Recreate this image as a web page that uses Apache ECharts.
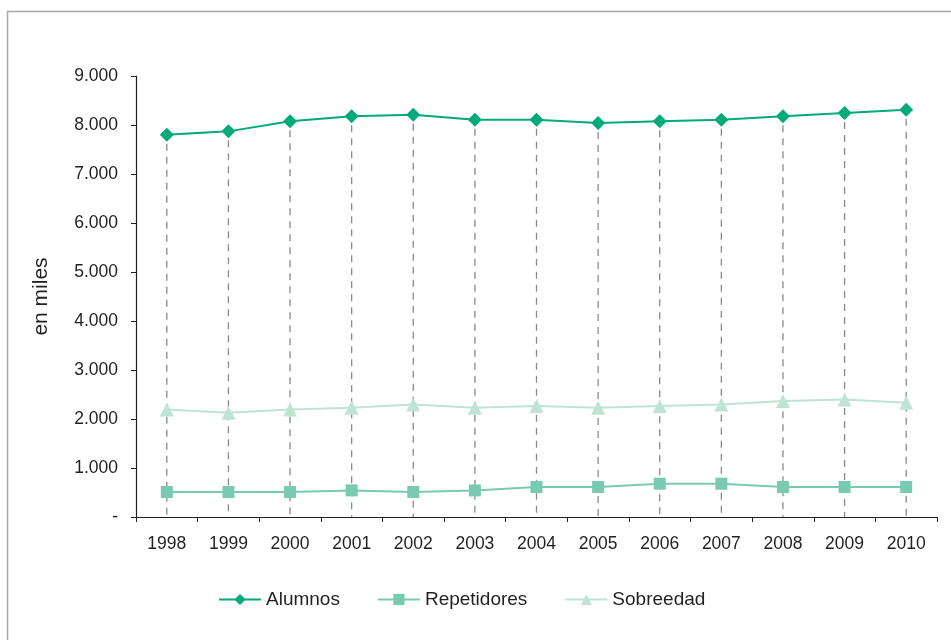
<!DOCTYPE html>
<html>
<head>
<meta charset="utf-8">
<script src="https://cdn.jsdelivr.net/npm/echarts@6/dist/echarts.min.js"></script>
<style>html,body{margin:0;padding:0;background:#fff;}#c{width:951px;height:640px;}</style>
</head>
<body>
<div id="c"></div>
<script>
const years = ['1998','1999','2000','2001','2002','2003','2004','2005','2006','2007','2008','2009','2010'];
const alumnos = [7800, 7870, 8075, 8177, 8210, 8108, 8108, 8040, 8075, 8108, 8177, 8244, 8312];
const repetidores = [510, 510, 510, 543, 510, 543, 612, 612, 679, 679, 612, 612, 612];
const sobreedad = [2194, 2127, 2194, 2229, 2296, 2229, 2263, 2229, 2263, 2296, 2365, 2398, 2331];
const seriesNames = ['Alumnos', 'Repetidores', 'Sobreedad'];

const textColor = '#231f20';
const font = 'Liberation Sans, Arial, sans-serif';

const chart = echarts.init(document.getElementById('c'));
chart.setOption({
  animation: false,
  backgroundColor: '#fff',
  graphic: [{
    type: 'rect', left: 5, top: 9, shape: { width: 1000, height: 1000 },
    style: { fill: 'none', stroke: '#a8a8a8', lineWidth: 1.5 }, silent: true
  }],
  grid: { left: 136, right: 14, top: 76, bottom: 123 },
  legend: {
    data: seriesNames,
    left: 213, top: 585,
    itemWidth: 42, itemHeight: 14, itemGap: 37,
    textStyle: { color: textColor, fontSize: 19, fontFamily: font }
  },
  xAxis: {
    type: 'category',
    data: years,
    boundaryGap: true,
    axisLine: { lineStyle: { color: textColor, width: 1.2 } },
    axisTick: { show: true, alignWithLabel: false, length: 5, lineStyle: { color: textColor } },
    axisLabel: { color: textColor, fontSize: 17.5, fontFamily: font, margin: 18 },
    splitLine: { show: false }
  },
  yAxis: {
    type: 'value',
    min: 0, max: 9000, interval: 1000,
    name: 'en miles',
    nameLocation: 'middle',
    nameRotate: 90,
    nameGap: 84,
    nameTextStyle: { color: textColor, fontSize: 21, fontFamily: font },
    axisLine: { show: true, lineStyle: { color: textColor, width: 1.2 } },
    axisTick: { show: true, length: 5, lineStyle: { color: textColor } },
    axisLabel: {
      color: textColor, fontSize: 17.5, fontFamily: font, margin: 18,
      formatter: function (v) {
        if (v === 0) return '-';
        return String(v).replace(/\B(?=(\d{3})+(?!\d))/g, '.');
      }
    },
    splitLine: { show: false }
  },
  series: [
    {
      type: 'custom',
      name: 'drop',
      z: 1,
      silent: true,
      data: alumnos.map(function (v, i) { return [i, v]; }),
      renderItem: function (params, api) {
        const top = api.coord([api.value(0), api.value(1)]);
        const bot = api.coord([api.value(0), 0]);
        return {
          type: 'line',
          shape: { x1: top[0], y1: top[1] + 9, x2: bot[0], y2: bot[1] },
          style: { stroke: '#8a8a8a', lineWidth: 1.3, lineDash: [7, 6] }
        };
      }
    },
    {
      name: 'Alumnos', type: 'line', data: alumnos, z: 5,
      symbol: 'diamond', symbolSize: 14,
      lineStyle: { color: '#00aa7a', width: 2 },
      itemStyle: { color: '#00aa7a' }
    },
    {
      name: 'Repetidores', type: 'line', data: repetidores, z: 4,
      symbol: 'rect', symbolSize: 12,
      lineStyle: { color: '#78cbb0', width: 2 },
      itemStyle: { color: '#78cbb0' }
    },
    {
      name: 'Sobreedad', type: 'line', data: sobreedad, z: 3,
      symbol: 'triangle', symbolSize: 14,
      lineStyle: { color: '#bfe4d4', width: 2 },
      itemStyle: { color: '#bfe4d4' }
    }
  ]
});
</script>
</body>
</html>
